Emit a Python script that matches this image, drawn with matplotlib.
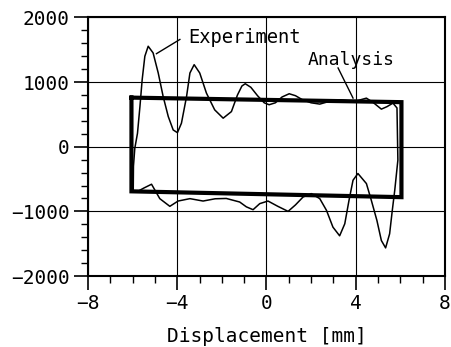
"""Load-displacement hysteresis: experiment vs analysis."""

import matplotlib
matplotlib.use("Agg")
import matplotlib.pyplot as plt
from matplotlib.ticker import MultipleLocator

# Analysis loop (displacement mm, load)
ana_x = [-6.05, 6.05, 6.05, -6.05, -6.05]
ana_y = [760, 690, -780, -690, 760]

# Experiment loop
exp_x = [-5.97, -5.96, -5.9, -5.78, -5.67, -5.57, -5.45, -5.3, -5.08, -4.85,
         -4.63, -4.4, -4.18, -3.99, -3.81, -3.58, -3.43, -3.24, -2.99, -2.69,
         -2.32, -1.94, -1.57, -1.3, -1.1, -0.95, -0.7, -0.4, -0.1, 0.12,
         0.4, 0.7, 1.02, 1.3, 1.6, 2.0, 2.39, 2.8, 3.3, 3.95,
         4.25, 4.48, 4.8, 5.15, 5.4, 5.67, 5.85, 5.89, 5.75, 5.64,
         5.52, 5.34, 5.15, 4.95, 4.7, 4.48, 4.1, 3.88, 3.7, 3.51,
         3.28, 2.98, 2.69, 2.39, 2.01, 1.64, 1.3, 0.97, 0.5, 0.07,
         -0.3, -0.6, -0.9, -1.2, -1.8, -2.3, -2.84, -3.43, -3.96, -4.33,
         -4.78, -5.15, -5.5, -5.82, -5.97]
exp_y = [-673, -300, -25, 208, 622, 1037, 1400, 1555, 1452, 1141,
         778, 467, 260, 218, 364, 778, 1141, 1270, 1141, 830,
         571, 442, 544, 800, 940, 975, 920, 790, 680, 650,
         680, 770, 820, 790, 730, 680, 660, 700, 726, 700,
         730, 752, 680, 582, 620, 675, 600, -207, -673, -984,
         -1347, -1565, -1451, -1140, -829, -570, -414, -518, -829, -1192,
         -1378, -1244, -984, -803, -725, -778, -900, -1000, -920, -840,
         -880, -974, -930, -855, -800, -805, -840, -803, -840, -922,
         -803, -580, -640, -700, -673]

x_ticks = [-8, -4, 0, 4, 8]
y_ticks = [-2000, -1000, 0, 1000, 2000]
x_label = "Displacement [mm]"

FONT = "DejaVu Sans Mono"

fig = plt.figure(figsize=(4.51, 3.47), dpi=100)
ax = fig.add_axes([0.195, 0.2046, 0.7916, 0.745])

ax.plot(ana_x, ana_y, color="black", linewidth=3.0, solid_joinstyle="miter")
ax.plot(exp_x, exp_y, color="black", linewidth=1.1, solid_joinstyle="round")

ax.set_xlim(-8, 8)
ax.set_ylim(-2000, 2000)
ax.set_xticks(x_ticks)
ax.set_yticks(y_ticks)
ax.set_xticklabels([f"{t}".replace("-", "\u2212") for t in x_ticks],
                   family=FONT, fontsize=14)
ax.set_yticklabels([f"{t}".replace("-", "\u2212") for t in y_ticks],
                   family=FONT, fontsize=14)
ax.xaxis.set_minor_locator(MultipleLocator(1))
ax.yaxis.set_minor_locator(MultipleLocator(200))
ax.tick_params(which="major", direction="out", length=10, width=1.2, pad=3)
ax.tick_params(which="minor", direction="out", length=5, width=1.0)
ax.grid(True, which="major", color="black", linewidth=0.8)

for s in ax.spines.values():
    s.set_linewidth(1.5)

ax.text(-3.52, 1683, "Experiment", family=FONT, fontsize=13.5,
        ha="left", va="center")
ax.plot([-3.88, -4.93], [1660, 1440], color="black", linewidth=1.0)
ax.text(1.84, 1348, "Analysis", family=FONT, fontsize=13,
        ha="left", va="center")
ax.plot([3.21, 3.88], [1219, 753], color="black", linewidth=1.0)

fig.text(266.7 / 451, 1 - 336 / 347, x_label, family=FONT, fontsize=14,
         ha="center", va="center")

fig.savefig("out.png", dpi=100)
plt.close(fig)
